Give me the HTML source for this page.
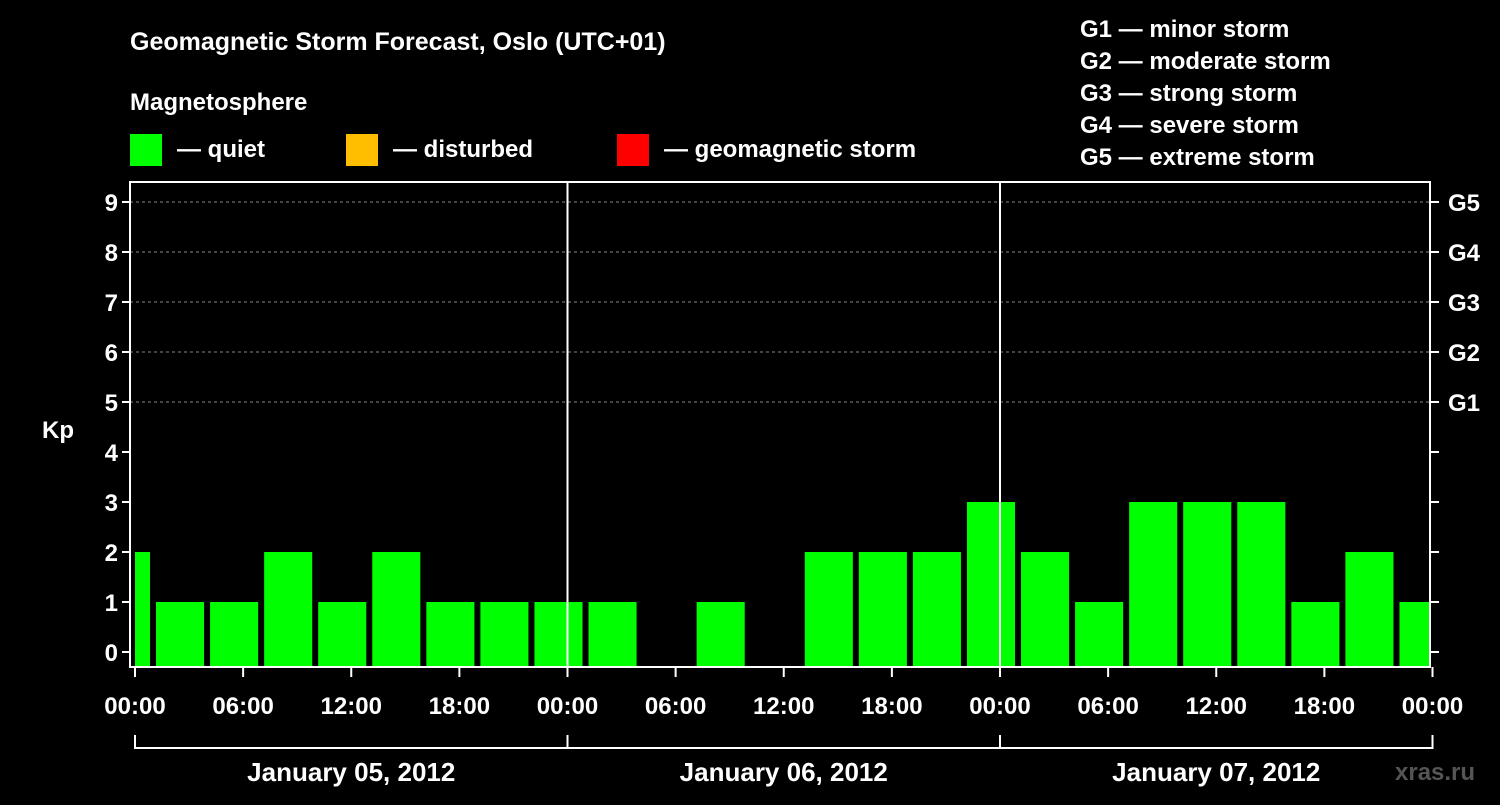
<!DOCTYPE html>
<html><head><meta charset="utf-8"><style>
body{margin:0;background:#000;}
svg text{font-family:"Liberation Sans",sans-serif;font-weight:bold;fill:#fff;}
</style></head><body>
<svg width="1500" height="800">
<rect width="1500" height="800" fill="#000"/>
<text x="130" y="50" font-size="25">Geomagnetic Storm Forecast, Oslo (UTC+01)</text>
<text x="130" y="110" font-size="24">Magnetosphere</text>
<rect x="130" y="134" width="32" height="32" fill="#00ff00"/>
<text x="177" y="157" font-size="24">— quiet</text>
<rect x="346" y="134" width="32" height="32" fill="#ffbf00"/>
<text x="393" y="157" font-size="24">— disturbed</text>
<rect x="617" y="134" width="32" height="32" fill="#ff0000"/>
<text x="664" y="157" font-size="24">— geomagnetic storm</text>
<g font-size="24">
<text x="1080" y="37">G1 — minor storm</text>
<text x="1080" y="69">G2 — moderate storm</text>
<text x="1080" y="101">G3 — strong storm</text>
<text x="1080" y="133">G4 — severe storm</text>
<text x="1080" y="165">G5 — extreme storm</text>
</g>
<text x="42" y="438" font-size="24">Kp</text>
<text x="1395" y="780" font-size="24" fill="#555" style="fill:#555">xras.ru</text>
<g id="plot"></g>
</svg>
<script>
const yTicks=[0,1,2,3,4,5,6,7,8,9];
const gLabels=["G1","G2","G3","G4","G5"];
const xTickLabels=["00:00","06:00","12:00","18:00","00:00","06:00","12:00","18:00","00:00","06:00","12:00","18:00","00:00"];
const dayLabels=["January 05, 2012","January 06, 2012","January 07, 2012"];
// Kp per 3h slot, slot starts in hours from Jan 05 00:00 local
const slotStarts=[-2,1,4,7,10,13,16,19,22,25,28,31,34,37,40,43,46,49,52,55,58,61,64,67,70];
const kpValues=[2,1,1,2,1,2,1,1,1,1,null,1,null,2,2,2,3,2,1,3,3,3,1,2,1];

const NS="http://www.w3.org/2000/svg";
const g=document.getElementById('plot');
const L=130,R=1430,T=182,B=667,X0=135,DAY=432.5;
const y=v=>652-v*50;
const x=h=>X0+h*DAY/24;
function mk(t,a,p){const e=document.createElementNS(NS,t);for(const k in a)e.setAttribute(k,a[k]);(p||g).appendChild(e);return e;}
// clip
const defs=mk('defs',{});const cp=mk('clipPath',{id:'c'},defs);mk('rect',{x:X0,y:T,width:R-X0-1,height:B-T},cp);
// grid
for(const v of yTicks){ if(v>=5){const l=mk('line',{x1:L,x2:R,y1:y(v),y2:y(v),stroke:'#888','stroke-dasharray':'3,3'});

}}
// bars
const bg=mk('g',{'clip-path':'url(#c)'});
kpValues.forEach((v,i)=>{ if(v===null)return;
 const x1=x(slotStarts[i])+3,x2=x(slotStarts[i]+3)-3;
 const r=mk('rect',{x:x1,y:y(v),width:x2-x1,height:B-y(v),fill:'#00ff00'},bg);
 
 
});
// day separators
[1,2].forEach(d=>{const l=mk('line',{x1:x(d*24),x2:x(d*24),y1:T,y2:B,stroke:'#fff','stroke-width':2});

});
// frame
const f=mk('rect',{x:L,y:T,width:R-L,height:B-T,fill:'none',stroke:'#fff','stroke-width':2});


// y ticks
yTicks.forEach(v=>{
 mk('line',{x1:L-8,x2:L,y1:y(v),y2:y(v),stroke:'#fff','stroke-width':2});
 mk('line',{x1:R,x2:R+9,y1:y(v),y2:y(v),stroke:'#fff','stroke-width':2});
 const t=mk('text',{x:L-12,y:y(v)+9,'font-size':24,'text-anchor':'end'});t.textContent=v;
 
 
});
gLabels.forEach((s,i)=>{const t=mk('text',{x:1448,y:y(5+i)+9,'font-size':24});t.textContent=s;
 
 });
// x ticks
xTickLabels.forEach((s,i)=>{const xx=x(i*6);
 mk('line',{x1:xx,x2:xx,y1:B,y2:B+10,stroke:'#fff','stroke-width':2});
 const t=mk('text',{x:xx,y:714,'font-size':24,'text-anchor':'middle'});t.textContent=s;
 
 });
// bracket
mk('line',{x1:X0,x2:x(72),y1:748,y2:748,stroke:'#fff','stroke-width':2});
[0,1,2,3].forEach(d=>mk('line',{x1:x(d*24),x2:x(d*24),y1:735,y2:749,stroke:'#fff','stroke-width':2}));
dayLabels.forEach((s,i)=>{const t=mk('text',{x:x(i*24+12),y:781,'font-size':26,'text-anchor':'middle'});t.textContent=s;
 
 });
</script>
</body></html>
